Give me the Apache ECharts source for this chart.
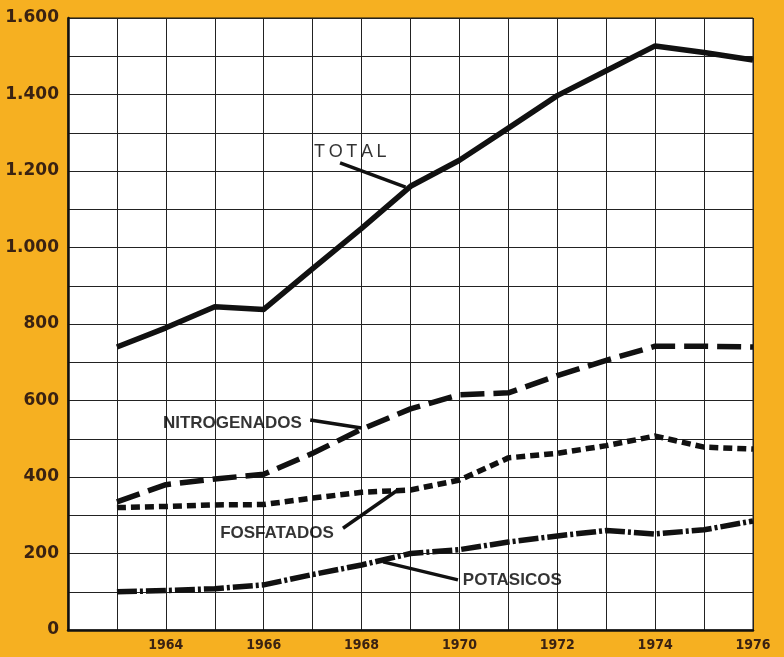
<!DOCTYPE html>
<html>
<head>
<meta charset="utf-8">
<script src="https://cdn.jsdelivr.net/npm/echarts@6/dist/echarts.min.js"></script>
<style>
  html, body { margin: 0; padding: 0; background: #F6B021; }
  #main { width: 784px; height: 657px; }
</style>
</head>
<body>
<div id="main"></div>
<script>
'use strict'
// años y valores
var years = [1963, 1964, 1965, 1966, 1967, 1968, 1969, 1970, 1971, 1972, 1973, 1974, 1975, 1976];
var total = [740, 790, 845, 838, 945, 1050, 1160, 1228, 1312, 1397, 1462, 1527, 1510, 1490];
var nitrogenados = [335, 380, 395, 407, 462, 525, 578, 615, 620, 665, 705, 742, 742, 740];
var fosfatados = [320, 323, 327, 328, 345, 360, 366, 392, 450, 462, 482, 507, 478, 473];
var potasicos = [100, 103, 108, 118, 145, 170, 200, 210, 230, 246, 260, 251, 262, 285];

var xLabels = ['1964', '1966', '1968', '1970', '1972', '1974', '1976'];
var yLabels = ['0', '200', '400', '600', '800', '1.000', '1.200', '1.400', '1.600'];

// rótulos: texto, punto del texto, inicio y fin de la flecha (en unidades del gráfico)
var notes = [
    {name: 'T\u2009O\u2009T\u2009A\u2009L', at: [1967.03, 1250], from: [1967.56, 1221], to: [1968.9, 1158], bold: false},
    {name: 'NITROGENADOS', at: [1963.94, 541], from: [1966.95, 549], to: [1968.0, 528], bold: true},
    {name: 'FOSFATADOS', at: [1965.11, 254], from: [1967.62, 266], to: [1968.74, 366], bold: true},
    {name: 'POTASICOS', at: [1970.07, 131], from: [1969.97, 131], to: [1968.44, 178], bold: true}
];

function pairs(vals) {
    return years.map(function (y, i) { return [y, vals[i]]; });
}

var ink = '#111';
var brown = '#3a2212';

function line(name, vals, dash) {
    return {
        name: name,
        type: 'line',
        data: pairs(vals),
        symbol: 'none',
        silent: true,
        z: 5,
        lineStyle: {color: ink, width: 5.5, type: dash, cap: 'butt', join: 'round'}
    };
}

var myChart = echarts.init(document.getElementById('main'));
var option = {
    backgroundColor: '#F6B021',
    animation: false,
    grid: {
        left: 68, right: 31, top: 18, bottom: 27,
        show: true, backgroundColor: '#fff', borderColor: ink, borderWidth: 1
    },
    xAxis: {
        type: 'value',
        min: 1962, max: 1976, interval: 1,
        axisLine: {show: true, lineStyle: {color: ink, width: 2.5}},
        axisTick: {show: false},
        splitLine: {show: true, lineStyle: {color: '#222', width: 1}},
        axisLabel: {
            color: brown, fontFamily: "'DejaVu Sans Condensed', sans-serif", fontWeight: 'bold', fontSize: 14, margin: 8,
            formatter: function (v) { return xLabels.indexOf(String(v)) >= 0 ? String(v) : ''; }
        }
    },
    yAxis: {
        type: 'value',
        min: 0, max: 1600, interval: 100,
        axisLine: {show: true, lineStyle: {color: ink, width: 2.5}},
        axisTick: {show: false},
        splitLine: {show: true, lineStyle: {color: '#222', width: 1}},
        axisLabel: {
            color: brown, fontFamily: "'DejaVu Sans', sans-serif", fontWeight: 'bold', fontSize: 17, margin: 9,
            formatter: function (v) { return v % 200 === 0 ? yLabels[v / 200] : ''; }
        }
    },
    series: [
        line('TOTAL', total, 'solid'),
        line('NITROGENADOS', nitrogenados, [24, 9]),
        line('FOSFATADOS', fosfatados, [9, 5]),
        line('POTASICOS', potasicos, [20, 3, 3, 3]),
        {
            name: 'flechas',
            type: 'lines',
            coordinateSystem: 'cartesian2d',
            silent: true,
            z: 6,
            lineStyle: {color: ink, width: 3.5, opacity: 1},
            data: notes.map(function (n) { return {coords: [n.from, n.to]}; })
        },
        {
            name: 'rotulos',
            type: 'scatter',
            silent: true,
            symbolSize: 0,
            z: 7,
            data: notes.map(function (n) {
                return {
                    value: [n.at[0], n.at[1], n.name],
                    label: {fontWeight: n.bold ? 'bold' : 'normal', fontSize: n.bold ? 17 : 18}
                };
            }),
            label: {
                show: true, position: 'right', distance: 0,
                color: '#000', fontFamily: "'Liberation Sans', sans-serif",
                formatter: function (p) { return p.value[2]; }
            }
        }
    ]
};
myChart.setOption(option);
</script>
</body>
</html>
